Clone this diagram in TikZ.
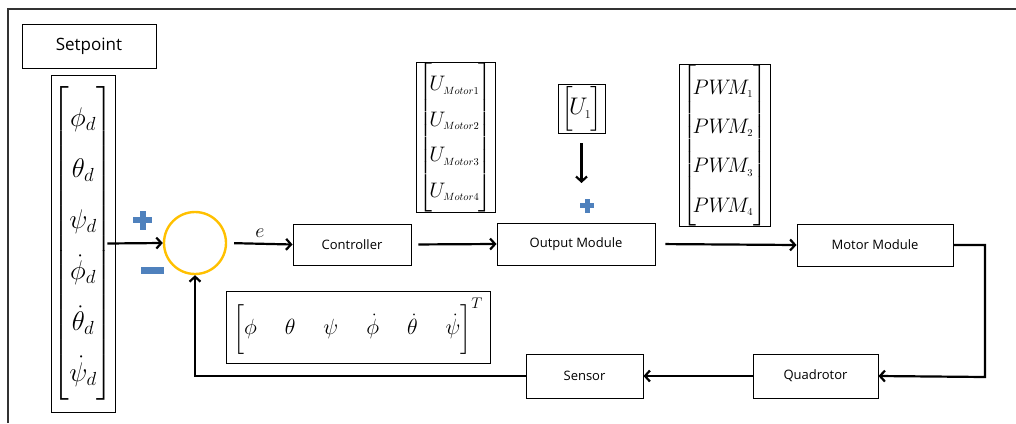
\RequirePackage{fix-cm}
\documentclass[tikz,border=0pt]{standalone}
\usepackage{amsmath}
\usepackage{fontspec}
\setmainfont{Open Sans}
\usetikzlibrary{arrows.meta}

\definecolor{sumorange}{RGB}{255,192,0}
\definecolor{signblue}{RGB}{79,129,189}

\begin{document}
\begin{tikzpicture}[x=1pt,y=-1pt,
  blk/.style={draw, line width=0.9pt, inner sep=0pt, font=\fontsize{13}{15}\selectfont},
  vecbox/.style={draw, line width=0.9pt, inner sep=0pt},
  arr/.style={line width=2.2pt, -{Straight Barb[length=5pt,width=11pt]}},
  sign/.style={fill=signblue}]

\useasboundingbox (0,0) rectangle (1016,423);

% outer frame (top and left edges)
\draw[line width=1.8pt, black!80] (8,423) -- (8,9) -- (1016,9);

% setpoint label and reference vector
\node[blk, minimum width=134pt, minimum height=44pt, font=\fontsize{17}{20}\selectfont] (setpt) at (89,46) {Setpoint};
\node[vecbox, minimum width=64pt, minimum height=337pt] (spvec) at (83,243.5)
  {\fontsize{27}{28}\selectfont\renewcommand\arraystretch{1.82}%
   $\left[\begin{array}{@{}c@{}}\phi_d\\ \theta_d\\ \psi_d\\ \dot\phi_d\\ \dot\theta_d\\ \dot\psi_d\end{array}\right]$};

% summing junction
\node[circle, draw=sumorange, line width=2.4pt, minimum size=62pt, inner sep=0pt] (sum) at (195,243) {};

% forward path blocks
\node[blk, minimum width=118pt, minimum height=41pt] (ctrl) at (352,244.5) {Controller};
\node[blk, minimum width=158pt, minimum height=42pt] (outm) at (576,244) {Output Module};
\node[blk, minimum width=156pt, minimum height=42pt] (motm) at (875,245) {Motor Module};
\node[blk, minimum width=125pt, minimum height=44pt] (quad) at (815.5,376) {Quadrotor};
\node[blk, minimum width=117pt, minimum height=44pt] (sens) at (584.5,376) {Sensor};

% signal vectors
\node[vecbox, minimum width=79pt, minimum height=150pt] (umot) at (455.5,137)
  {\fontsize{21}{25}\selectfont\renewcommand\arraystretch{1.42}%
   $\left[\!\begin{array}{@{}l@{}}U_{\scriptscriptstyle Motor1}\\ U_{\scriptscriptstyle Motor2}\\ U_{\scriptscriptstyle Motor3}\\ U_{\scriptscriptstyle Motor4}\end{array}\mkern-1mu\right]$};
\node[vecbox, minimum width=47pt, minimum height=49pt] (u1) at (581.5,108.5)
  {\fontsize{24}{25}\selectfont$\Bigl[\!U_{\scriptscriptstyle 1}\mkern-1mu\Bigr]$};
\node[vecbox, minimum width=91pt, minimum height=159pt] (pwm) at (724.5,145.5)
  {\fontsize{21}{24}\selectfont\renewcommand\arraystretch{1.63}%
   $\left[\!\begin{array}{@{}l@{}}PW\!M_{\scriptscriptstyle 1}\\ PW\!M_{\scriptscriptstyle 2}\\ PW\!M_{\scriptscriptstyle 3}\\ PW\!M_{\scriptscriptstyle 4}\end{array}\right]$};
\node[vecbox, minimum width=264pt, minimum height=72pt] (fb) at (358,327)
  {\fontsize{22}{28}\selectfont
   $\biggl[\phi\hspace{28pt}\theta\hspace{28pt}\psi\hspace{28pt}\dot\phi\hspace{28pt}\dot\theta\hspace{28pt}\dot\psi\biggr]^{T}$};

% connectors
\draw[arr] ([xshift=-8pt]spvec.east) -- (sum.west);
\draw[arr, shorten <=7pt] (sum.east) -- node[above=2pt, font=\fontsize{20}{24}\selectfont] (elab) {$e$} (ctrl.west);
\draw[arr, shorten <=7pt] (ctrl.east) -- (outm.west);
\coordinate (u1tip) at (581.5,183);
\draw[arr, shorten <=10pt] (u1.south) -- (u1tip);
\draw[arr, shorten <=10pt] (outm.east) -- (motm.west);
\coordinate (rcorner) at (985,377);
\draw[arr] (motm.east) -| (rcorner) -- (quad.east);
\draw[arr] (quad.west) -- (sens.east);
\draw[arr] (sens.west) -| (sum.south);

% signs at the junction and the output module
\fill[sign] (133,217) rectangle (152,223);
\fill[sign] (139.5,210.5) rectangle (145.5,229.5);
\fill[sign] (141,267) rectangle (164,274);
\fill[sign] (580,203) rectangle (594,208);
\fill[sign] (584.5,198.5) rectangle (589.5,212.5);
\end{tikzpicture}
\end{document}
